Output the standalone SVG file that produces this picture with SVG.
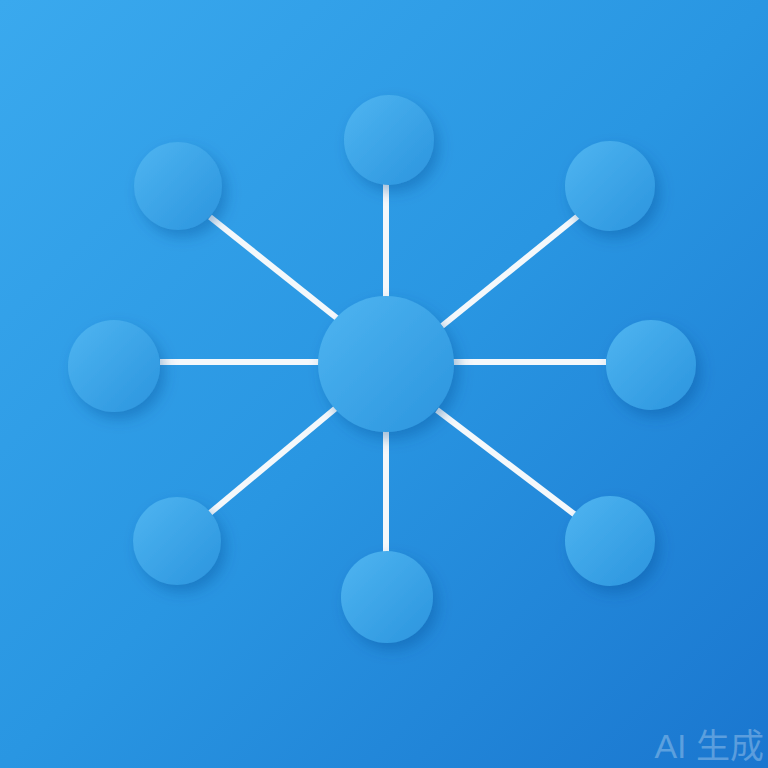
<svg xmlns="http://www.w3.org/2000/svg" width="768" height="768" viewBox="0 0 768 768">
<defs>
<linearGradient id="bg" x1="0" y1="0" x2="1" y2="1">
<stop offset="0" stop-color="#3aa9ee"/>
<stop offset="0.5" stop-color="#2996e2"/>
<stop offset="1" stop-color="#1a76cf"/>
</linearGradient>
<linearGradient id="node" x1="0" y1="0" x2="1" y2="1">
<stop offset="0" stop-color="#4fb5f1"/>
<stop offset="1" stop-color="#2a94de"/>
</linearGradient>
<filter id="sh" x="-50%" y="-50%" width="200%" height="200%">
<feDropShadow dx="5" dy="7" stdDeviation="7" flood-color="#0a4a90" flood-opacity="0.35"/>
</filter>
<style>
.n{fill:url(#node);filter:url(#sh)}
.c{stroke:#f4f8fb;stroke-width:6;stroke-linecap:butt}
.wm{font-family:"Liberation Sans","Noto Sans CJK SC",sans-serif;font-size:34px;fill:#ffffff;fill-opacity:0.28}
</style>
</defs>
<rect width="768" height="768" fill="url(#bg)"/>
<g id="connectors">
<line class="c" x1="386" y1="184" x2="386" y2="298"/>
<line class="c" x1="210" y1="217" x2="338" y2="319"/>
<line class="c" x1="578" y1="216" x2="442" y2="326"/>
<line class="c" x1="160" y1="362" x2="320" y2="362"/>
<line class="c" x1="452" y1="362" x2="606" y2="362"/>
<line class="c" x1="210" y1="513" x2="336" y2="408"/>
<line class="c" x1="386" y1="430" x2="386" y2="552"/>
<line class="c" x1="437" y1="410" x2="578" y2="517"/>
</g>
<g id="center"><circle class="n" cx="386" cy="364" r="68"/></g>
<g id="n-top"><circle class="n" cx="389" cy="140" r="45"/></g>
<g id="n-topleft"><circle class="n" cx="178" cy="186" r="44"/></g>
<g id="n-topright"><circle class="n" cx="610" cy="186" r="45"/></g>
<g id="n-left"><circle class="n" cx="114" cy="366" r="46"/></g>
<g id="n-right"><circle class="n" cx="651" cy="365" r="45"/></g>
<g id="n-bottomleft"><circle class="n" cx="177" cy="541" r="44"/></g>
<g id="n-bottom"><circle class="n" cx="387" cy="597" r="46"/></g>
<g id="n-bottomright"><circle class="n" cx="610" cy="541" r="45"/></g>
<text class="wm" x="764" y="758" text-anchor="end">AI 生成</text>
</svg>
